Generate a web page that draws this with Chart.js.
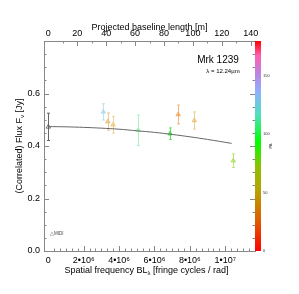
<!DOCTYPE html>
<html>
<head>
<meta charset="utf-8">
<script src="https://cdn.jsdelivr.net/npm/chart.js@4"></script>
<style>
  html, body { margin: 0; padding: 0; background: #fff; }
</style>
</head>
<body>
<canvas id="chart" width="299" height="294"></canvas>
<script>
// measured correlated fluxes (MIDI), x in fringe cycles / rad
const freq = [0, 3.11e6, 3.36e6, 3.66e6, 5.08e6, 6.88e6, 7.34e6, 8.25e6, 10.45e6];
const flux = [0.473, 0.530, 0.493, 0.481, 0.460, 0.447, 0.520, 0.497, 0.344];
const fluxErr = [0.052, 0.031, 0.033, 0.032, 0.058, 0.022, 0.036, 0.033, 0.026];
const pointColors = ['#555555', '#a8d8ee', '#e8b870', '#e8c878', '#90eeb0', '#30dd30', '#f0a050', '#e8c070', '#a8e050'];

// model curve
const modelFreq = [0, 1e6, 2e6, 3e6, 4e6, 5e6, 6e6, 7e6, 8e6, 9e6, 10.36e6];
const modelFlux = [0.474, 0.473, 0.471, 0.468, 0.464, 0.458, 0.452, 0.444, 0.435, 0.425, 0.410];

const xTicks = [0, 2e6, 4e6, 6e6, 8e6, 1e7];
const xTickLabels = ['0', '2\u202210\u2076', '4\u202210\u2076', '6\u202210\u2076', '8\u202210\u2076', '1\u202210\u2077'];
const baseTicks = [0, 20, 40, 60, 80, 100, 120, 140];
const yTicks = [0, 0.2, 0.4, 0.6];
const cbarTicks = [0, 50, 100, 150];
const cbarMax = 180;
const cbarStops = [0, 0.14, 0.28, 0.4, 0.52, 0.65, 0.76, 0.85, 0.93, 1];
const cbarColors = ['#ff0000', '#e05a00', '#b8a000', '#90c000', '#00ff00', '#50e0c0', '#90b0ff', '#c080e0', '#ff60b0', '#ff0000'];

const lambdaUm = 12.24;
const xMin = -0.243e6, xMax = 11.68e6;
const FONT = 'Liberation Sans, Arial, sans-serif';

function hexA(hex, a) {
    const n = parseInt(hex.slice(1), 16);
    return `rgba(${n >> 16},${(n >> 8) & 255},${n & 255},${a})`;
}

const errorBars = {
    id: 'errorBars',
    beforeDatasetsDraw(chart) {
        const ctx = chart.ctx, x = chart.scales.x, y = chart.scales.y;
        ctx.save();
        ctx.lineWidth = 1;
        freq.forEach((f, i) => {
            const px = Math.round(x.getPixelForValue(f)) + 0.5;
            const y1 = y.getPixelForValue(flux[i] + fluxErr[i]);
            const y2 = y.getPixelForValue(flux[i] - fluxErr[i]);
            ctx.strokeStyle = i === 0 ? '#666' : hexA(pointColors[i], 0.75);
            ctx.beginPath();
            ctx.moveTo(px, y1); ctx.lineTo(px, y2);
            ctx.moveTo(px - 1.5, y1); ctx.lineTo(px + 1.5, y1);
            ctx.moveTo(px - 1.5, y2); ctx.lineTo(px + 1.5, y2);
            ctx.stroke();
        });
        ctx.restore();
    }
};

function drawSubText(ctx, parts, x, y, align) {
    // parts: [text, isSub]
    let w = 0;
    parts.forEach(p => {
        ctx.font = (p[1] ? '6px ' : '9px ') + FONT;
        w += ctx.measureText(p[0]).width;
    });
    let cx = align === 'center' ? x - w / 2 : x;
    parts.forEach(p => {
        ctx.font = (p[1] ? '6px ' : '9px ') + FONT;
        ctx.fillText(p[0], cx, y + (p[1] ? 2.5 : 0));
        cx += ctx.measureText(p[0]).width;
    });
}

const frame = {
    id: 'frame',
    afterDraw(chart) {
        const ctx = chart.ctx, a = chart.chartArea;
        const x = chart.scales.x, x2 = chart.scales.x2, y = chart.scales.y;
        ctx.save();
        ctx.strokeStyle = '#888';
        ctx.lineWidth = 1;
        ctx.strokeRect(a.left + 0.5, a.top + 0.5, a.right - a.left, a.bottom - a.top);
        ctx.beginPath();
        // left / right ticks
        for (let v = 0.05; v < 0.8; v += 0.05) {
            const py = Math.round(y.getPixelForValue(v)) + 0.5;
            const major = Math.abs(v / 0.2 - Math.round(v / 0.2)) < 1e-6;
            const len = major ? 5 : 2.5;
            ctx.moveTo(a.left, py); ctx.lineTo(a.left + len, py);
            ctx.moveTo(a.right, py); ctx.lineTo(a.right - len, py);
        }
        // bottom ticks
        for (let k = 1; k * 1e6 / 3 < xMax; k++) {
            const v = k * 1e6 / 3;
            const px = Math.round(x.getPixelForValue(v)) + 0.5;
            const len = k % 6 === 0 ? 5 : 2.5;
            ctx.moveTo(px, a.bottom); ctx.lineTo(px, a.bottom - len);
        }
        // top ticks
        for (let m = 10; m < x2.max; m += 10) {
            const px = Math.round(x2.getPixelForValue(m)) + 0.5;
            const len = m % 20 === 0 ? 5 : 2.5;
            ctx.moveTo(px, a.top); ctx.lineTo(px, a.top + len);
        }
        ctx.stroke();

        // colour bar
        const cbL = a.right, cbW = 6;
        const g = ctx.createLinearGradient(0, a.bottom, 0, a.top);
        cbarStops.forEach((s, i) => g.addColorStop(s, cbarColors[i]));
        ctx.fillStyle = g;
        ctx.fillRect(cbL, a.top, cbW, a.bottom - a.top);
        ctx.fillStyle = '#333';
        ctx.font = '4px ' + FONT;
        ctx.textAlign = 'left';
        ctx.textBaseline = 'middle';
        cbarTicks.forEach(t => {
            const py = a.bottom - (a.bottom - a.top) * t / cbarMax;
            ctx.fillText(String(t), cbL + cbW + 2, py);
        });
        ctx.save();
        ctx.translate(271, (a.top + a.bottom) / 2);
        ctx.rotate(-Math.PI / 2);
        ctx.textAlign = 'center';
        ctx.fillText('PA', 0, 0);
        ctx.restore();

        // titles
        ctx.fillStyle = '#000';
        ctx.textBaseline = 'middle';
        ctx.textAlign = 'left';
        const cx = (a.left + a.right) / 2;
        drawSubText(ctx, [['Spatial frequency BL', false], ['\u03bb', true], [' [fringe cycles / rad]', false]], cx - 3, 271, 'center');
        ctx.font = '9px ' + FONT;
        ctx.textAlign = 'center';
        ctx.fillText('Projected baseline length [m]', cx, 28);
        ctx.save();
        ctx.translate(20, (a.top + a.bottom) / 2);
        ctx.rotate(-Math.PI / 2);
        ctx.textAlign = 'left';
        drawSubText(ctx, [['(Correlated) Flux F', false], ['\u03bd', true], [' [Jy]', false]], 0, 0, 'center');
        ctx.restore();

        // annotations
        ctx.textAlign = 'center';
        ctx.font = '10px ' + FONT;
        ctx.fillText('Mrk 1239', 218, 60);
        ctx.font = '6px ' + FONT;
        ctx.fillText('\u03bb = 12.24\u00b5m', 223, 71);
        ctx.textAlign = 'left';
        ctx.font = '4.5px ' + FONT;
        ctx.fillStyle = '#444';
        ctx.fillText('\u25b3MIDI', 50, 234);
        ctx.restore();
    }
};

const tickFont = { family: FONT, size: 9 };
const noGrid = { display: false, drawTicks: false, tickLength: 0 };

new Chart(document.getElementById('chart'), {
    type: 'scatter',
    data: {
        datasets: [
            {
                type: 'line',
                data: modelFreq.map((f, i) => ({ x: f, y: modelFlux[i] })),
                borderColor: '#666',
                borderWidth: 1,
                pointRadius: 0,
                tension: 0.3,
                fill: false
            },
            {
                data: freq.map((f, i) => ({ x: f, y: flux[i] })),
                pointStyle: 'triangle',
                pointRadius: 2.6,
                backgroundColor: pointColors.map((c, i) => i === 0 ? 'rgba(0,0,0,0)' : hexA(c, 0.6)),
                borderColor: pointColors,
                borderWidth: 0.8
            }
        ]
    },
    options: {
        responsive: false,
        animation: false,
        layout: { padding: { left: 0, right: 44, top: 0, bottom: 0 } },
        plugins: { legend: { display: false }, tooltip: { enabled: false } },
        scales: {
            x: {
                type: 'linear', position: 'bottom', min: xMin, max: xMax,
                grid: noGrid, border: { display: false },
                afterBuildTicks: s => { s.ticks = xTicks.map(v => ({ value: v })); },
                afterFit: s => { s.height = 43; },
                ticks: {
                    font: tickFont, color: '#000', padding: 4, maxRotation: 0, autoSkip: false,
                    callback: v => xTickLabels[xTicks.indexOf(v)]
                }
            },
            x2: {
                type: 'linear', position: 'top', display: true,
                min: xMin * lambdaUm * 1e-6, max: xMax * lambdaUm * 1e-6,
                grid: noGrid, border: { display: false },
                afterBuildTicks: s => { s.ticks = baseTicks.map(v => ({ value: v })); },
                afterFit: s => { s.height = 41; },
                ticks: { font: tickFont, color: '#000', padding: 2, maxRotation: 0, autoSkip: false }
            },
            y: {
                type: 'linear', min: 0, max: 0.8,
                grid: noGrid, border: { display: false },
                afterBuildTicks: s => { s.ticks = yTicks.map(v => ({ value: v })); },
                afterFit: s => { s.width = 44; },
                ticks: { font: tickFont, color: '#000', padding: 4, callback: v => v.toFixed(1) }
            }
        }
    },
    plugins: [errorBars, frame]
});
</script>
</body>
</html>
